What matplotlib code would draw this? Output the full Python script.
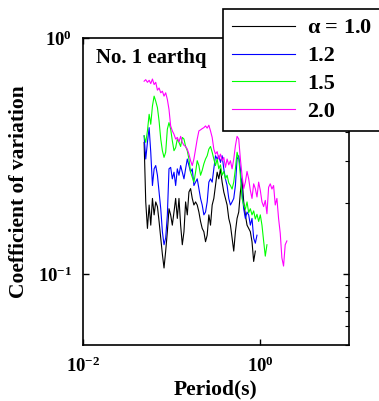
import numpy as np
import matplotlib
matplotlib.use("Agg")
from matplotlib import pyplot as plt
from matplotlib.ticker import LogLocator, NullFormatter, FixedLocator, FixedFormatter

# periods (s), shared by all series
period = [0.0489, 0.0510, 0.0533, 0.0557, 0.0581, 0.0607, 0.0634, 0.0661, 0.0691, 0.0721,
          0.0753, 0.0786, 0.0820, 0.0856, 0.0894, 0.0933, 0.0974, 0.1017, 0.1062, 0.1109,
          0.1158, 0.1209, 0.1262, 0.1318, 0.1376, 0.1436, 0.1500, 0.1566, 0.1635, 0.1707,
          0.1782, 0.1860, 0.1942, 0.2028, 0.2117, 0.2210, 0.2308, 0.2409, 0.2515, 0.2626,
          0.2742, 0.2863, 0.2989, 0.3120, 0.3258, 0.3401, 0.3551, 0.3707, 0.3871, 0.4041,
          0.4219, 0.4405, 0.4599, 0.4802, 0.5013, 0.5234, 0.5465, 0.5706, 0.5957, 0.6219,
          0.6493, 0.6779, 0.7078, 0.7390, 0.7715, 0.8055, 0.8410, 0.8780, 0.9167, 0.9571,
          0.9993, 1.0433, 1.0893, 1.1373, 1.1874, 1.2397, 1.2943, 1.3513, 1.4108, 1.4730,
          1.5379, 1.6056, 1.6764, 1.7502, 1.8273, 1.9078, 1.9918]

cov_a10 = [0.361, 0.202, 0.156, 0.196, 0.161, 0.209, 0.178, 0.202, 0.193, 0.167,
           0.142, 0.121, 0.106, 0.125, 0.151, 0.189, 0.178, 0.161, 0.183, 0.209,
           0.172, 0.209, 0.161, 0.133, 0.151, 0.202, 0.178, 0.2225, 0.230, 0.209,
           0.196, 0.202, 0.196, 0.183, 0.167, 0.156, 0.151, 0.137, 0.146, 0.178,
           0.161, 0.196, 0.209, 0.237, 0.270, 0.253, 0.279, 0.245, 0.2225, 0.209,
           0.196, 0.172, 0.161, 0.142, 0.125, 0.151, 0.172, 0.183, 0.2225, 0.253,
           0.202, 0.178, 0.161, 0.156, 0.151, 0.137, 0.113, 0.125]

cov_a12 = [0.385, 0.307, 0.361, 0.417, 0.328, 0.237, 0.279, 0.288, 0.262, 0.2225,
           0.189, 0.151, 0.133, 0.142, 0.178, 0.279, 0.283, 0.253, 0.270, 0.237,
           0.279, 0.262, 0.288, 0.270, 0.253, 0.279, 0.307, 0.288, 0.270, 0.279,
           0.237, 0.245, 0.253, 0.230, 0.209, 0.196, 0.178, 0.183, 0.202, 0.245,
           0.253, 0.245, 0.279, 0.317, 0.307, 0.317, 0.297, 0.317, 0.279, 0.253,
           0.237, 0.209, 0.196, 0.202, 0.209, 0.237, 0.307, 0.317, 0.279, 0.2225,
           0.189, 0.172, 0.183, 0.178, 0.161, 0.172, 0.142, 0.135, 0.146]

cov_a15 = [0.385, 0.361, 0.404, 0.475, 0.431, 0.515, 0.567, 0.540, 0.507, 0.445,
           0.373, 0.333, 0.312, 0.328, 0.411, 0.438, 0.411, 0.367, 0.333, 0.343,
           0.373, 0.361, 0.347, 0.379, 0.373, 0.347, 0.333, 0.307, 0.270, 0.257,
           0.245, 0.270, 0.302, 0.288, 0.262, 0.275, 0.293, 0.307, 0.317, 0.338,
           0.347, 0.328, 0.307, 0.288, 0.307, 0.279, 0.290, 0.262, 0.272, 0.253,
           0.262, 0.243, 0.237, 0.229, 0.245, 0.279, 0.328, 0.307, 0.262, 0.209,
           0.196, 0.188, 0.202, 0.182, 0.189, 0.178, 0.185, 0.171, 0.179, 0.167,
           0.178, 0.161, 0.138, 0.119, 0.133]

cov_a20 = [0.656, 0.666, 0.649, 0.662, 0.641, 0.670, 0.635, 0.649, 0.601, 0.614,
           0.586, 0.595, 0.567, 0.586, 0.549, 0.498, 0.424, 0.404, 0.391, 0.373,
           0.379, 0.363, 0.383, 0.361, 0.351, 0.347, 0.338, 0.322, 0.302, 0.288,
           0.307, 0.338, 0.373, 0.404, 0.408, 0.413, 0.417, 0.424, 0.415, 0.427,
           0.404, 0.379, 0.338, 0.322, 0.330, 0.307, 0.322, 0.302, 0.312, 0.283,
           0.307, 0.290, 0.302, 0.279, 0.307, 0.349, 0.383, 0.373, 0.307, 0.262,
           0.230, 0.245, 0.272, 0.253, 0.226, 0.209, 0.241, 0.230, 0.212, 0.245,
           0.226, 0.202, 0.193, 0.205, 0.180, 0.233, 0.241, 0.229, 0.237, 0.196,
           0.209, 0.172, 0.149, 0.117, 0.108, 0.133, 0.138]

labels = [r'$\mathbf{\alpha}$ = 1.0', '1.2', '1.5', '2.0']
colors = ['black', '#0000ff', '#00ff00', '#ff00ff']

plt.rcParams['font.family'] = 'Liberation Serif'
plt.rcParams['font.weight'] = 'bold'
plt.rcParams['mathtext.fontset'] = 'custom'
plt.rcParams['mathtext.rm'] = 'Liberation Serif:bold'
plt.rcParams['mathtext.bf'] = 'Liberation Serif:bold'
plt.rcParams['mathtext.it'] = 'Liberation Serif:bold'

fig = plt.figure(figsize=(3.79, 4.01), dpi=100)
ax = fig.add_axes([83/379, 1-345/401, 266/379, 307/401])

series = [cov_a10, cov_a12, cov_a15, cov_a20]
handles = []
for s, c, lab in zip(series, colors, labels):
    h, = ax.plot(period[:len(s)], s, color=c, lw=0.8, label=lab)
    handles.append(h)

ax.set_xscale('log')
ax.set_yscale('log')
ax.set_xlim(0.01, 10)
ax.set_ylim(0.05, 1)

ax.xaxis.set_major_locator(FixedLocator([0.01, 1]))
ax.xaxis.set_major_formatter(FixedFormatter([r'$10^{-2}$', r'$10^{0}$']))
ax.xaxis.set_minor_locator(FixedLocator([]))
ax.yaxis.set_major_locator(FixedLocator([0.1, 1]))
ax.yaxis.set_major_formatter(FixedFormatter([r'$10^{-1}$', r'$10^{0}$']))
ax.yaxis.set_minor_locator(LogLocator(base=10, subs=np.arange(2, 10)))
ax.yaxis.set_minor_formatter(NullFormatter())

ax.tick_params(which='both', direction='in', top=True, right=True, labelsize=13.5, pad=8)
ax.tick_params(which='major', length=4, width=1)
ax.tick_params(which='minor', length=3, width=0.8, left=False)
for sp in ax.spines.values():
    sp.set_linewidth(1.2)

ax.set_xlabel('Period(s)', fontsize=15.5, fontweight='bold', labelpad=3)
ax.set_ylabel('Coefficient of variation', fontsize=15.5, fontweight='bold', labelpad=6)

ax.text(0.049, 0.967, 'No. 1 earthq', transform=ax.transAxes, fontsize=15,
        fontweight='bold', va='top', ha='left')

leg = fig.legend(handles=handles, loc='upper left', bbox_to_anchor=(223/379, 1-9/401),
                 borderaxespad=0, fontsize=16, handlelength=2.85, handletextpad=0.55,
                 labelspacing=0.33, borderpad=0.4, fancybox=False, framealpha=1,
                 edgecolor='black')
leg.get_frame().set_linewidth(1.2)
leg.set_zorder(10)

fig.savefig('out.png', dpi=100)
